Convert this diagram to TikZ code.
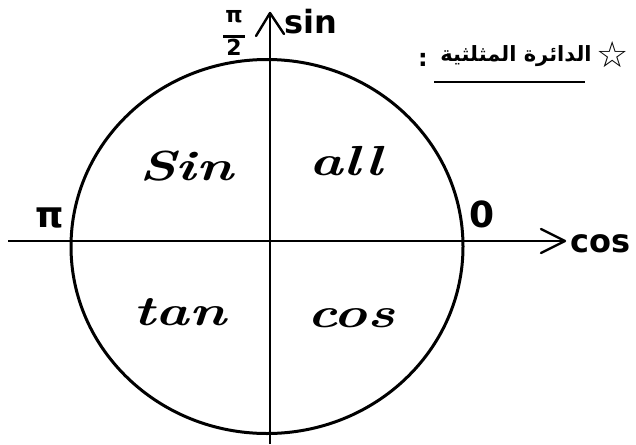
\documentclass[tikz,border=0pt]{standalone}
\usepackage{fontspec}
\newfontfamily\djsans{DejaVu Sans}
\newfontfamily\arabicfont[Script=Arabic]{DejaVu Sans}
\TeXXeTstate=1
\usetikzlibrary{arrows.meta}
\tikzset{
  axis/.style={line width=1.8pt, black},
  chev/.style={line width=2.4pt, black, line cap=round, line join=round},
  lbl/.style={font=\djsans\bfseries\fontsize{32}{32}\selectfont, inner sep=0pt},
  quad/.style={font=\bfseries\itshape\fontsize{42}{42}\selectfont, inner sep=0pt, xscale=1.35},
}
\begin{document}
\begin{tikzpicture}[x=1pt,y=-1pt]
\useasboundingbox (0,0) rectangle (636,444);
\fill[white] (0,0) rectangle (636,444);
% circle
\draw[line width=3pt] (267,246.5) ellipse [x radius=196, y radius=187];
% axes
\coordinate (xl) at (8,241);
\coordinate (xr) at (565,241);
\coordinate (yb) at (270,444);
\coordinate (yt) at (270,13);
\draw[axis] (xl) -- (xr);
\draw[axis] (yb) -- (yt);
\draw[chev] (541,229) -- (xr) -- (541,253);
\draw[chev] (256,36) -- (yt) -- (284,34);
% axis labels
\node[lbl, anchor=west] (cos) at (570,244) {cos};
\node[lbl, anchor=west] (sin) at (284,22) {sin};
\node[font=\djsans\bfseries\fontsize{22}{22}\selectfont, inner sep=0pt, align=center] (pihalf) at (234,33) {π\\[-7pt]\rule{22pt}{2.2pt}\\[-4pt]2};
\node[font=\djsans\bfseries\fontsize{36}{36}\selectfont, inner sep=0pt] (pi) at (50,218) {π};
\node[font=\djsans\bfseries\fontsize{36}{36}\selectfont, inner sep=0pt] (zero) at (482,214) {0};
% quadrant labels
\node[quad] (qsin) at (186,166) {Sin};
\node[quad] (qall) at (346,161) {all};
\node[quad] (qtan) at (180,312) {tan};
\node[quad] (qcos) at (351,318) {cos};
% title
\node[font=\djsans\fontsize{36}{36}\selectfont, inner sep=0pt] (star) at (613,55) {☆};
\node[font=\arabicfont\bfseries\fontsize{21}{21}\selectfont, inner sep=0pt] (title) at (516,56) {\beginR الدائرة المثلثية\endR};
\node[font=\djsans\bfseries\fontsize{24}{24}\selectfont, inner sep=0pt] (colon) at (423,60) {:};
\coordinate (ul) at (434,82);
\coordinate (ur) at (585,82);
\draw[line width=2pt] (ul) -- (ur);
\end{tikzpicture}
\end{document}
